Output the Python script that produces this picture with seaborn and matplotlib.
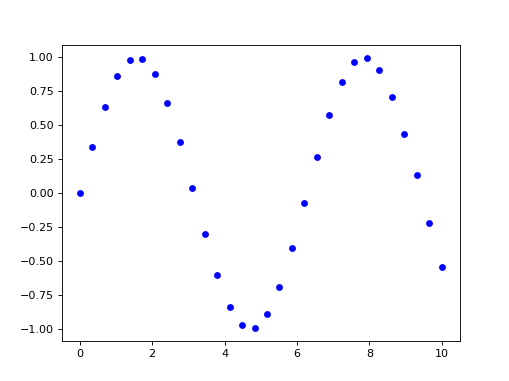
import matplotlib
matplotlib.use("Agg")
import matplotlib.pyplot as plt
import seaborn as sns
import pandas as pd

x_vals = [0.0, 0.345, 0.690, 1.034, 1.379, 1.724, 2.069, 2.414, 2.759, 3.103,
          3.448, 3.793, 4.138, 4.483, 4.828, 5.172, 5.517, 5.862, 6.207, 6.552,
          6.897, 7.241, 7.586, 7.931, 8.276, 8.621, 8.966, 9.310, 9.655, 10.0]
y_vals = [0.0, 0.338, 0.637, 0.859, 0.982, 0.988, 0.878, 0.665, 0.373, 0.038,
          -0.301, -0.606, -0.839, -0.974, -0.993, -0.894, -0.690, -0.408, -0.076, 0.267,
          0.574, 0.821, 0.968, 0.996, 0.904, 0.705, 0.436, 0.131, -0.224, -0.544]

df = pd.DataFrame({"x": x_vals, "y": y_vals})

fig = plt.figure(figsize=(509/80, 381/80), dpi=80)
ax = fig.add_axes([61.5/509, 1-341/381, (460-61.5)/509, (341-45)/381])
sns.scatterplot(data=df, x="x", y="y", ax=ax, color="blue", s=38,
                edgecolor="blue", linewidth=0, legend=False)
ax.set_xlabel("")
ax.set_ylabel("")
ax.set_yticks([-1.0, -0.75, -0.5, -0.25, 0.0, 0.25, 0.5, 0.75, 1.0])
ax.set_yticklabels(["−1.00", "−0.75", "−0.50", "−0.25", "0.00", "0.25", "0.50", "0.75", "1.00"])
ax.set_xticks([0, 2, 4, 6, 8, 10])
ax.set_xlim(-0.5, 10.5)
ax.set_ylim(-1.09, 1.09)
fig.savefig("out.png", dpi=80)
